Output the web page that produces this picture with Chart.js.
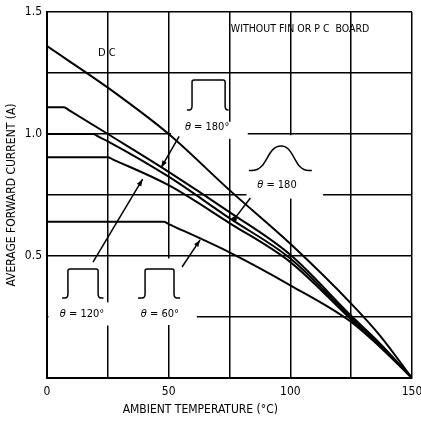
<!DOCTYPE html>
<html>
<head>
<meta charset="utf-8">
<script src="https://cdn.jsdelivr.net/npm/chart.js@4.4.1/dist/chart.umd.min.js"></script>
<style>
  html, body { margin: 0; padding: 0; background: #fff; }
  #wrap { width: 421px; height: 421px; }
</style>
</head>
<body>
<div id="wrap"><canvas id="myChart"></canvas></div>
<script>
const FONT = "'Liberation Sans Narrow', 'DejaVu Sans Condensed', 'Arial Narrow', sans-serif";

// ambient temperature (°C) / average forward current (A)
const dcTemp = [0, 25, 50, 75, 100, 125, 137, 150];
const dcCurrent = [1.36, 1.19, 1.0, 0.77, 0.55, 0.305, 0.172, 0];
const sq180Temp = [0, 7, 9, 25, 50, 75, 100, 125, 137, 150];
const sq180Current = [1.11, 1.11, 1.098, 1.0, 0.845, 0.68, 0.505, 0.255, 0.14, 0];
const sine180Temp = [0, 19, 21, 25, 50, 75, 100, 125, 137, 150];
const sine180Current = [1.0, 1.0, 0.99, 0.97, 0.825, 0.655, 0.49, 0.248, 0.134, 0];
const sq120Temp = [0, 25, 27, 50, 75, 100, 125, 137, 150];
const sq120Current = [0.905, 0.905, 0.896, 0.79, 0.635, 0.475, 0.24, 0.128, 0];
const sq60Temp = [0, 48, 50, 75, 100, 125, 137, 150];
const sq60Current = [0.64, 0.64, 0.631, 0.515, 0.38, 0.23, 0.126, 0];

const xTickLabels = ['0', '50', '100', '150'];
const yTickLabels = ['0.5', '1.0', '1.5'];

const toPoints = (xs, ys) => xs.map((v, i) => ({ x: v, y: ys[i] }));

const curve = (label, xs, ys) => ({
  label: label,
  data: toPoints(xs, ys),
  borderColor: '#000',
  borderWidth: 2,
  pointRadius: 0,
  fill: false,
  cubicInterpolationMode: 'monotone'
});

// places where the printed grid is broken around the notes (data units)
const gridGaps = [
  [51, 82.5, 0.98, 1.05],
  [82, 113.5, 0.735, 0.765],
  [98, 102, 0.74, 0.995],
  [0.6, 61.6, 0.24, 0.26],
  [24, 26, 0.215, 0.31],
  [49, 51, 0.217, 0.49]
];

function squarePulse(ctx, X, Y, p) {
  const xs = X(p[0]), xr = X(p[1]), xf = X(p[2]), xe = X(p[3]);
  const yb = Y(p[4]), yt = Y(p[5]);
  ctx.beginPath();
  ctx.moveTo(xs, yb);
  ctx.lineTo(xr - 3, yb);
  ctx.quadraticCurveTo(xr, yb, xr, yb - 4);
  ctx.lineTo(xr, yt + 2);
  ctx.quadraticCurveTo(xr, yt, xr + 2, yt);
  ctx.lineTo(xf - 2, yt);
  ctx.quadraticCurveTo(xf, yt, xf, yt + 2);
  ctx.lineTo(xf, yb - 4);
  ctx.quadraticCurveTo(xf, yb, xf + 3, yb);
  ctx.lineTo(xe, yb);
  ctx.stroke();
}

function sinePulse(ctx, X, Y, p) {
  const x0 = X(p[0]), xp = X(p[1]), x1 = X(p[2]);
  const yb = Y(p[3]), yt = Y(p[4]);
  ctx.beginPath();
  ctx.moveTo(x0 - 3, yb);
  ctx.lineTo(x0, yb);
  ctx.bezierCurveTo(x0 + (xp - x0) * 0.55, yb, xp - (xp - x0) * 0.5, yt, xp, yt);
  ctx.bezierCurveTo(xp + (x1 - xp) * 0.5, yt, x1 - (x1 - xp) * 0.55, yb, x1, yb);
  ctx.lineTo(x1 + 3, yb);
  ctx.stroke();
}

function arrow(ctx, X, Y, a, dot) {
  const x0 = X(a[0]), y0 = Y(a[1]), x1 = X(a[2]), y1 = Y(a[3]);
  ctx.beginPath();
  ctx.moveTo(x0, y0);
  ctx.lineTo(x1, y1);
  ctx.stroke();
  const ang = Math.atan2(y1 - y0, x1 - x0);
  if (dot) {
    ctx.beginPath();
    ctx.arc(x1, y1, 2.5, 0, Math.PI * 2);
    ctx.fill();
    return;
  }
  ctx.beginPath();
  ctx.moveTo(x1, y1);
  ctx.lineTo(x1 - 7 * Math.cos(ang) + 2.5 * Math.sin(ang), y1 - 7 * Math.sin(ang) - 2.5 * Math.cos(ang));
  ctx.lineTo(x1 - 7 * Math.cos(ang) - 2.5 * Math.sin(ang), y1 - 7 * Math.sin(ang) + 2.5 * Math.cos(ang));
  ctx.closePath();
  ctx.fill();
}

function thetaLabel(ctx, rest, cx, cy) {
  ctx.font = 'italic 11px ' + FONT;
  const w1 = ctx.measureText('θ').width;
  ctx.font = '11px ' + FONT;
  const w2 = ctx.measureText(rest).width;
  let left = cx - (w1 + w2) / 2;
  ctx.textAlign = 'left';
  ctx.font = 'italic 11px ' + FONT;
  ctx.fillText('θ', left, cy);
  ctx.font = '11px ' + FONT;
  ctx.fillText(rest, left + w1, cy);
}

const notes = {
  id: 'notes',
  beforeDatasetsDraw(chart) {
    const { ctx, scales: { x, y } } = chart;
    ctx.save();
    ctx.fillStyle = '#fff';
    gridGaps.forEach(g => {
      const x0 = x.getPixelForValue(g[0]), x1 = x.getPixelForValue(g[1]);
      const y0 = y.getPixelForValue(g[3]), y1 = y.getPixelForValue(g[2]);
      ctx.fillRect(x0, y0, x1 - x0, y1 - y0);
    });
    ctx.restore();
  },
  afterDatasetsDraw(chart) {
    const { ctx, chartArea, scales: { x, y } } = chart;
    const X = v => x.getPixelForValue(v);
    const Y = v => y.getPixelForValue(v);
    ctx.save();
    ctx.strokeStyle = '#000';
    ctx.fillStyle = '#000';
    ctx.lineWidth = 1.5;
    ctx.textBaseline = 'middle';

    ctx.textAlign = 'center';
    ctx.font = '11px ' + FONT;
    ctx.fillText('D C', X(24.6), Y(1.333));
    ctx.font = '10.5px ' + FONT;
    ctx.fillText('WITHOUT FIN OR P C  BOARD', X(104), Y(1.43));

    // square wave 180°
    squarePulse(ctx, X, Y, [57.5, 59.6, 73.2, 74.6, 1.098, 1.221]);
    thetaLabel(ctx, ' = 180°', X(65.8), Y(1.03));
    arrow(ctx, X, Y, [54.3, 0.99, 46.9, 0.862]);

    // half sine 180
    sinePulse(ctx, X, Y, [84.2, 96.2, 107.6, 0.85, 0.951]);
    thetaLabel(ctx, ' = 180', X(94.5), Y(0.79));
    arrow(ctx, X, Y, [83.6, 0.738, 77, 0.652], true);

    // square wave 120°
    squarePulse(ctx, X, Y, [6.2, 8.6, 21, 23.2, 0.328, 0.447]);
    thetaLabel(ctx, ' = 120°', X(14.4), Y(0.262));
    arrow(ctx, X, Y, [18.9, 0.475, 39.3, 0.815]);

    // square wave 60°
    squarePulse(ctx, X, Y, [37.4, 40.3, 52.2, 54.7, 0.328, 0.447]);
    thetaLabel(ctx, ' = 60°', X(46.4), Y(0.262));
    arrow(ctx, X, Y, [55.5, 0.455, 62.9, 0.566]);

    // x axis title, printed left of centre
    ctx.textAlign = 'center';
    ctx.font = '12px ' + FONT;
    ctx.fillText('AMBIENT TEMPERATURE (°C)', X(63), chartArea.bottom + 32);
    ctx.restore();
  }
};

const ctx = document.getElementById('myChart');

new Chart(ctx, {
  type: 'line',
  data: {
    datasets: [
      curve('D C', dcTemp, dcCurrent),
      curve('θ = 180° square', sq180Temp, sq180Current),
      curve('θ = 180 sine', sine180Temp, sine180Current),
      curve('θ = 120°', sq120Temp, sq120Current),
      curve('θ = 60°', sq60Temp, sq60Current)
    ]
  },
  options: {
    responsive: true,
    maintainAspectRatio: false,
    animation: false,
    layout: { padding: { left: 0, right: 9, top: 12, bottom: 0 } },
    plugins: {
      legend: { display: false },
      tooltip: { enabled: false }
    },
    scales: {
      x: {
        type: 'linear',
        min: 0,
        max: 150,
        afterFit: s => { s.height = 43; s.paddingLeft = 0; s.paddingRight = 0; },
        ticks: {
          stepSize: 25,
          maxRotation: 0,
          padding: 7,
          color: '#000',
          font: { family: FONT, size: 12 },
          callback: v => xTickLabels.includes(String(v)) ? String(v) : ''
        },
        grid: { color: '#000', lineWidth: 1.5, drawTicks: false },
        border: { color: '#000', width: 2 }
      },
      y: {
        min: 0,
        max: 1.5,
        afterFit: s => { s.width = 47; s.paddingTop = 0; s.paddingBottom = 0; },
        ticks: {
          stepSize: 0.25,
          padding: 5,
          color: '#000',
          font: { family: FONT, size: 12 },
          callback: v => yTickLabels.includes(v.toFixed(1)) && v % 0.5 === 0 ? v.toFixed(1) : ''
        },
        grid: { color: '#000', lineWidth: 1.5, drawTicks: false },
        border: { color: '#000', width: 2 },
        title: {
          display: true,
          text: 'AVERAGE FORWARD CURRENT (A)',
          color: '#000',
          font: { family: FONT, size: 12 },
          padding: { top: 5, bottom: 0 }
        }
      }
    }
  },
  plugins: [notes]
});
</script>
</body>
</html>
